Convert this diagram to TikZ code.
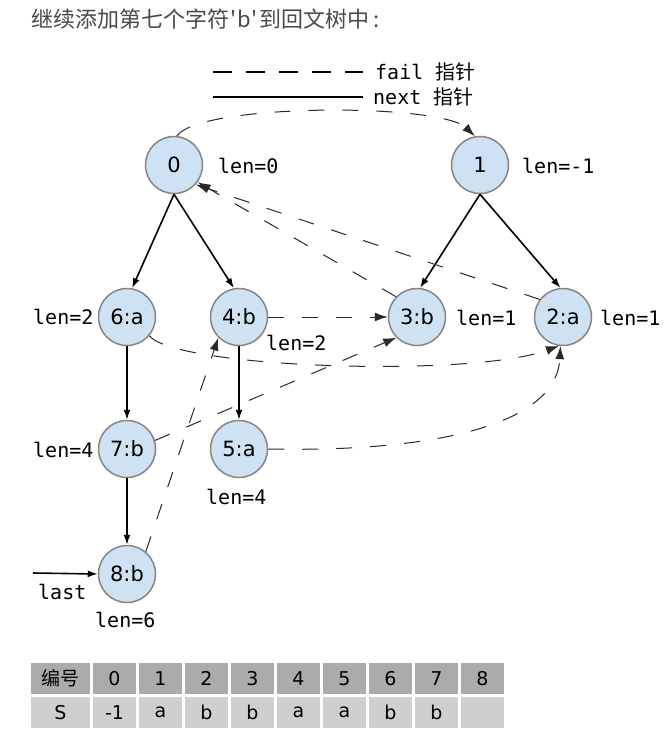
\documentclass[tikz,border=0pt]{standalone}
\usepackage{fontspec}
\setmainfont{DejaVu Sans}
\setmonofont{DejaVu Sans Mono}
\newfontfamily\cjk[Ligatures=TeXOff]{Noto Sans CJK SC}
\usetikzlibrary{arrows.meta}
\definecolor{nodeborder}{HTML}{858585}
\definecolor{nodefill}{HTML}{CFE2F3}
\definecolor{titlecol}{HTML}{4A4A4A}
\definecolor{failcol}{HTML}{2A2A2A}
\definecolor{headfill}{HTML}{ABABAB}
\definecolor{rowfill}{HTML}{CFCFCF}
\begin{document}
\begin{tikzpicture}[x=1pt,y=-1pt,
  state/.style={circle,draw=nodeborder,fill=nodefill,line width=1.5pt,minimum size=57pt,inner sep=0pt,font=\fontsize{21}{21}\selectfont},
  lbl/.style={anchor=west,inner sep=0pt,font=\ttfamily\fontsize{20}{20}\selectfont},
  nxt/.style={line width=1.6pt,-{Latex[length=10pt,width=7pt]}},
  fl/.style={draw=failcol,line width=1pt,dash pattern=on 16pt off 18pt,-{Latex[length=13pt,width=9pt]}},
  headcell/.style={fill=headfill,inner sep=0pt,minimum height=31pt,font=\fontsize{19}{19}\selectfont},
  rowcell/.style={fill=rowfill,inner sep=0pt,minimum height=31pt,font=\fontsize{19}{19}\selectfont}]
\useasboundingbox[fill=white] (0,0) rectangle (666,744);

% title
\node[anchor=west,inner sep=0pt,text=titlecol,font=\cjk\fontsize{22}{22}\selectfont] (title) at (31,19) {继续添加第七个字符\kern1pt'\kern1pt b\kern1pt'\kern1pt 到回文树中\kern4pt:};

% legend
\coordinate (fa) at (213,72); \coordinate (fb) at (363,72);
\coordinate (na) at (213,97); \coordinate (nb) at (363,97);
\draw[line width=1.3pt,dash pattern=on 19pt off 14pt] (fa) -- (fb);
\draw[line width=1.6pt] (na) -- (nb);
\node[anchor=west,inner sep=0pt,font=\fontsize{20}{20}\selectfont] (lf) at (375,72) {\ttfamily fail \cjk 指针};
\node[anchor=west,inner sep=0pt,font=\fontsize{20}{20}\selectfont] (ln) at (373,97) {\ttfamily next \cjk 指针};

% nodes
\node[state] (n0) at (174,165) {0};
\node[state] (n1) at (480,165) {1};
\node[state] (n6) at (127,317) {6:a};
\node[state] (n4) at (239,317) {4:b};
\node[state] (n3) at (417,317) {3:b};
\node[state] (n2) at (563,317) {2:a};
\node[state] (n7) at (127,449) {7:b};
\node[state] (n5) at (239,449) {5:a};
\node[state] (n8) at (127,574) {8:b};

% labels
\node[lbl] (l0) at (218,166) {len=0};
\node[lbl] (l1) at (522,166) {len=-1};
\node[lbl] (l6) at (33,317) {len=2};
\node[lbl] (l4) at (266,343) {len=2};
\node[lbl] (l3) at (456,318) {len=1};
\node[lbl] (l2) at (600,318) {len=1};
\node[lbl] (l7) at (33,450) {len=4};
\node[lbl] (l5) at (206,497) {len=4};
\node[lbl] (llast) at (38,592) {last};
\node[lbl] (l8) at (95,620) {len=6};

% next edges
\draw[nxt] (n0.south) -- (n6.80);
\draw[nxt] (n0.south) -- (n4.100);
\draw[nxt] (n1.south) -- (n3.84);
\draw[nxt] (n1.south) -- (n2.95);
\draw[nxt] (n6.south) -- (n7.north);
\draw[nxt] (n4.south) -- (n5.north);
\draw[nxt] (n7.south) -- (n8.north);
\coordinate (lastin) at (33,573);
\draw[nxt] (lastin) -- (n8.west);

% fail edges
\draw[fl] (n0.84) .. controls (200,103) and (440,103) .. (n1.100);
\draw[fl] (n3.136) -- (n0.-36);
\draw[fl] (n2.143) -- (n0.-42);
\draw[fl] (n4.east) -- (n3.west);
\draw[fl] (n6.-40) .. controls (175,368) and (470,378) .. (n2.262);
\draw[fl] (n7.17) -- (n3.225);
\draw[fl] (n5.east) .. controls (410,452) and (556,432) .. (n2.265);
\draw[fl] (n8.50) -- (n4.225);

% table
\node[headcell,minimum width=59pt,font=\cjk\fontsize{19}{19}\selectfont] (hl) at (60.5,678.5) {编号};
\node[rowcell,minimum width=59pt] (rl) at (60.5,712.5) {S};
\foreach \i/\s in {0/-1,1/a,2/b,3/b,4/a,5/a,6/b,7/b,8/{}} {
  \node[headcell,minimum width=43pt] (h\i) at ({114.5+46*\i},678.5) {\i};
  \node[rowcell,minimum width=43pt] (r\i) at ({114.5+46*\i},712.5) {\s};
}
\end{tikzpicture}
\end{document}
